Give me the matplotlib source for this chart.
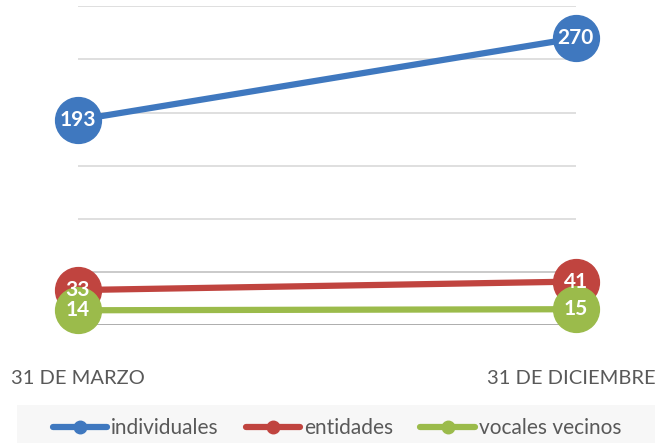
import matplotlib.pyplot as plt
from matplotlib.patches import Rectangle
from matplotlib.lines import Line2D

fechas = ["31 DE MARZO", "31 DE DICIEMBRE"]
individuales = [193, 270]
entidades = [33, 41]
vocales = [14, 15]
series = [("individuales", individuales, "#3f78bf"),
          ("entidades", entidades, "#c0443f"),
          ("vocales vecinos", vocales, "#9bbb4b")]

plt.rcParams['font.family'] = ['Lato', 'DejaVu Sans']

fig = plt.figure(figsize=(6.61, 4.43), dpi=100)
ax = fig.add_axes([0.118, 0.266, 0.753, 0.72])

x = list(range(len(fechas)))
for name, vals, col in series:
    ax.plot(x, vals, color=col, lw=4.5, marker="o", ms=33, mec=col,
            solid_capstyle="round", clip_on=False, zorder=3, label=name)
for name, vals, col in series:
    for xi, v in zip(x, vals):
        ax.text(xi, v, str(v), color="white", fontsize=15, fontweight="bold",
                ha="center", va="center", zorder=5)

ax.set_xlim(0, 1)
ax.set_ylim(0, 300)
ax.set_yticks(range(0, 301, 50))
ax.yaxis.grid(True, color="#d9d9d9", lw=1.2)
ax.set_axisbelow(True)
ax.set_yticklabels([])
ax.tick_params(axis="y", length=0)
ax.tick_params(axis="x", length=0, pad=32, labelsize=14.5, labelcolor="#595959")
ax.set_xticks(x)
ax.set_xticklabels(fechas)
ax.get_xticklabels()[1].set_horizontalalignment("right")
ax.get_xticklabels()[1].set_x(1.0)
for s in ax.spines.values():
    s.set_visible(False)
ax.axhline(0, color="#a6a6a6", lw=1.2, zorder=1)
ax.axhline(50, color="#c8c8c8", lw=1.2, zorder=1)

fig.canvas.draw()
from matplotlib.transforms import ScaledTranslation
lab = ax.get_xticklabels()[1]
lab.set_transform(lab.get_transform() + ScaledTranslation(0.8, 0, fig.dpi_scale_trans))

fig.patches.append(Rectangle((17 / 661, 0), 638 / 661, 38 / 443,
                             transform=fig.transFigure, facecolor="#f7f7f7",
                             edgecolor="none", zorder=0))
labels = [s[0] for s in series]
h = [Line2D([0], [0], color=c, lw=4.5, marker="o", ms=9, solid_capstyle="round")
     for _, _, c in series]
fig.legend(h, labels, loc="center", bbox_to_anchor=(0.51, 15 / 443), ncol=3,
           frameon=False, fontsize=15, labelcolor="#595959", handlelength=2.6,
           handletextpad=0.2, columnspacing=1.3)

fig.savefig("out.png", dpi=100)
